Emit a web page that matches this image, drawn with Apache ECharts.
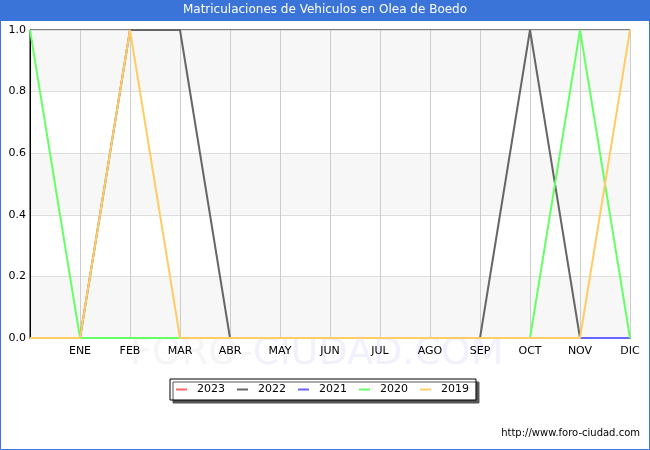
<!doctype html>
<html lang="es">
<head>
    <meta charset="UTF-8">
    <title>Matriculaciones de Vehiculos en Olea de Boedo</title>
    <style>
        html, body { margin: 0; padding: 0; background: #fff; }
    </style>
</head>
<body>
    <script src="https://cdn.jsdelivr.net/npm/echarts@6/dist/echarts.min.js"></script>
    <div id="chart" style="width: 650px; height: 450px"></div>

    <script>
        // datos
        var meses = ['', 'ENE', 'FEB', 'MAR', 'ABR', 'MAY', 'JUN', 'JUL', 'AGO', 'SEP', 'OCT', 'NOV', 'DIC'];
        var anios = ['2023', '2022', '2021', '2020', '2019'];
        var v2023 = [0, 0, 0, 0, 0, 0, 0, 0, 0, 0, 0, 0, 0];
        var v2022 = [0, 0, 1, 1, 0, 0, 0, 0, 0, 0, 1, 0, 0];
        var v2021 = [0, 0, 0, 0, 0, 0, 0, 0, 0, 0, 0, 0, 0];
        var v2020 = [1, 0, 0, 0, 0, 0, 0, 0, 0, 0, 0, 1, 0];
        var v2019 = [0, 0, 1, 0, 0, 0, 0, 0, 0, 0, 0, 0, 1];
        var yTicks = [0, 0.2, 0.4, 0.6, 0.8, 1.0];

        var colores = ['#ff6666', '#666666', '#6666ff', '#66ff66', '#ffcc66'];
        var valores = [v2023, v2022, v2021, v2020, v2019];

        var fuente = 'DejaVu Sans';

        var series = anios.map(function (a, i) {
            return {
                name: a,
                type: 'line',
                data: valores[i],
                symbol: 'none',
                z: 2 + i,
                lineStyle: { width: 2, color: colores[i] },
                itemStyle: { color: colores[i] }
            };
        });

        var option = {
            animation: false,
            textStyle: { fontFamily: fuente },
            grid: {
                left: 30, right: 20, top: 30, bottom: 112,
                show: true, borderColor: '#000', borderWidth: 1,
                backgroundColor: 'transparent'
            },
            xAxis: {
                type: 'category',
                data: meses,
                boundaryGap: false,
                axisLine: { lineStyle: { color: '#000', width: 1 } },
                axisTick: { show: false },
                axisLabel: { interval: 0, color: '#000', fontSize: 11, margin: 8, fontFamily: fuente },
                splitLine: { show: true, interval: 0, lineStyle: { color: '#cccccc', width: 1 } }
            },
            yAxis: {
                type: 'value',
                min: yTicks[0],
                max: yTicks[yTicks.length - 1],
                interval: 0.2,
                axisLine: { show: true, lineStyle: { color: '#000' } },
                axisTick: { show: false },
                axisLabel: {
                    color: '#000', fontSize: 11, margin: 4, fontFamily: fuente,
                    formatter: function (v) { return v.toFixed(1); }
                },
                splitLine: { show: true, lineStyle: { color: '#dddddd', width: 1 } },
                splitArea: { show: true, areaStyle: { color: ['#f7f7f7', '#ffffff'] } }
            },
            legend: {
                data: anios,
                left: 170, top: 379,
                padding: [5, 7, 5, 6],
                itemGap: 12,
                itemWidth: 11, itemHeight: 2,
                icon: 'rect',
                borderColor: '#000', borderWidth: 1,
                backgroundColor: '#fff',
                shadowColor: '#555', shadowOffsetX: 3, shadowOffsetY: 3, shadowBlur: 0,
                textStyle: { color: '#000', fontSize: 11, fontFamily: fuente, padding: [0, 0, 0, 5] }
            },
            graphic: [
                {
                    type: 'rect', z: -10, silent: true,
                    shape: { x: 0.5, y: 0.5, width: 649, height: 449 },
                    style: { fill: 'none', stroke: '#3a74d9', lineWidth: 1 }
                },
                {
                    type: 'rect', left: 0, top: 0, z: 100, silent: true,
                    shape: { width: 650, height: 21 },
                    style: { fill: '#3a74d9' }
                },
                {
                    type: 'text', left: 'center', top: 4, z: 101, silent: true,
                    style: {
                        text: 'Matriculaciones de Vehiculos en Olea de Boedo',
                        fill: '#fff', fontSize: 12, fontFamily: fuente
                    }
                },
                {
                    type: 'text', left: 130, top: 335, z: 0, silent: true,
                    style: {
                        text: '{a|FORO-}{b|CIUDAD.COM}',
                        rich: {
                            a: { fill: '#f5f5f5', fontSize: 38, fontFamily: fuente },
                            b: { fill: '#f1f1fd', fontSize: 38, fontFamily: fuente }
                        }
                    }
                },
                {
                    type: 'text', right: 10, top: 428, silent: true,
                    style: {
                        text: 'http://www.foro-ciudad.com',
                        fill: '#000', fontSize: 10, fontFamily: fuente
                    }
                }
            ],
            series: series
        };

        var chart = echarts.init(document.getElementById('chart'));
        chart.setOption(option);
    </script>
</body>
</html>
